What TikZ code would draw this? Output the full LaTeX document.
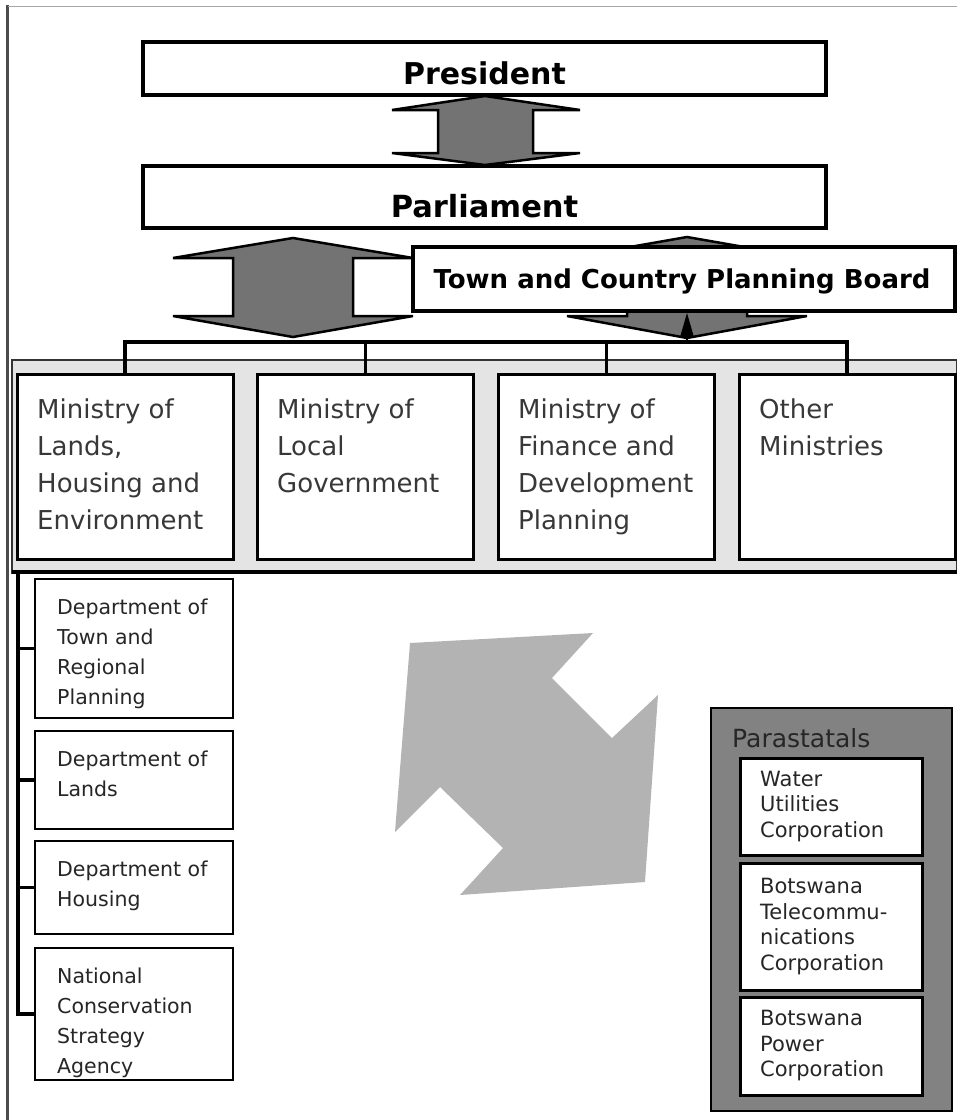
\documentclass[tikz,border=0pt]{standalone}
\usepackage{fontspec}
\setmainfont{DejaVu Sans}
\usetikzlibrary{arrows.meta}
\definecolor{arrowgray}{HTML}{737373}
\definecolor{bandgray}{HTML}{E4E4E4}
\definecolor{pinwheel}{HTML}{B3B3B3}
\definecolor{paragray}{HTML}{828282}
\begin{document}
\begin{tikzpicture}[x=1pt,y=-1pt,
  topbox/.style={draw=black, line width=4pt, fill=white, inner sep=0pt},
  boldtext/.style={anchor=base, inner sep=0pt, font=\bfseries},
  blockarrow/.style={fill=arrowgray, draw=black, line width=2.5pt, line join=miter},
  minbox/.style={draw=black, line width=3pt, fill=white, minimum width=216pt, minimum height=185pt, inner sep=0pt},
  mintext/.style={anchor=north west, align=left, inner sep=0pt, font=\fontsize{26}{37}\selectfont, text=black!78},
  deptbox/.style={draw=black, line width=2.5pt, fill=white, minimum width=198pt, inner sep=0pt},
  depttext/.style={anchor=north west, align=left, inner sep=0pt, font=\fontsize{20.5}{30}\selectfont, text=black!85},
  parabox/.style={draw=black, line width=3pt, fill=white, minimum width=182pt, inner sep=0pt},
  paratext/.style={anchor=west, align=left, inner sep=0pt, font=\fontsize{21}{25.5}\selectfont, text=black!85},
  busline/.style={draw=black, line width=4pt}
]
\useasboundingbox (0,0) rectangle (957,1120);
% frame
\draw[black!70, line width=2.5pt] (7.5,5) -- (7.5,1120);
\draw[gray!70, line width=1.5pt] (7.5,6.5) -- (957,6.5);

% block arrows
\draw[blockarrow] (485,96) -- (580,110) -- (533,110) -- (533,153) -- (580,153) -- (485,165)
  -- (392,153) -- (438,153) -- (438,110) -- (392,110) -- cycle;
\draw[blockarrow] (293,238) -- (413,258) -- (353,258) -- (353,316) -- (413,316) -- (293,337)
  -- (173,316) -- (233,316) -- (233,258) -- (173,258) -- cycle;
\draw[blockarrow] (687,237) -- (807,258) -- (747,258) -- (747,316) -- (807,316) -- (687,338)
  -- (567,316) -- (627,316) -- (627,258) -- (567,258) -- cycle;

% top boxes
\node[topbox, minimum width=683pt, minimum height=53pt] (pres) at (484.5,68.5) {};
\node[boldtext, font=\fontsize{30}{36}\selectfont\bfseries] (presT) at (484.5,84.5) {President};
\node[topbox, minimum width=683pt, minimum height=62pt] (parl) at (484.5,197) {};
\node[boldtext, font=\fontsize{30.5}{36}\selectfont\bfseries] (parlT) at (484.5,217) {Parliament};
\node[topbox, line width=3.5pt, minimum width=542pt, minimum height=64pt] (board) at (684,279) {};
\node[boldtext, font=\fontsize{26}{32}\selectfont\bfseries] (boardT) at (682,288.5) {Town and Country Planning Board};

% ministries band
\draw[fill=bandgray, draw=black!80, line width=1.5pt] (12,360) rectangle (957,573);
\draw[black, line width=3.5pt] (12,572) -- (957,572);

\node[minbox] (m1) at (125,466.5) {};
\node[minbox] (m2) at (365,466.5) {};
\node[minbox] (m3) at (606,466.5) {};
\node[minbox] (m4) at (847,466.5) {};
\node[mintext] (m1T) at (37,399) {Ministry of\\Lands,\\Housing and\\Environment};
\node[mintext] (m2T) at (277,399) {Ministry of\\Local\\Government};
\node[mintext] (m3T) at (518,399) {Ministry of\\Finance and\\Development\\Planning};
\node[mintext] (m4T) at (759,399) {Other\\Ministries};

% bus
\coordinate (bus) at (0,342);
\draw[busline] (m1.north) -- (m1.north |- bus) -- (m4.north |- bus) -- (m4.north);
\draw[busline, line width=3pt] (m2.north) -- (m2.north |- bus);
\draw[busline, line width=3pt] (m3.north) -- (m3.north |- bus);
\coordinate (bt) at (687,341);
\draw[line width=2.5pt, -{Triangle[length=24pt,width=13pt]}] (bt) -- (bt |- board.south);

% pinwheel
\fill[pinwheel] (410,643) -- (593,633) -- (552,678) -- (612,738) -- (658,695) -- (645,882)
  -- (460,895) -- (503,848) -- (440,787) -- (395,832) -- cycle;

% departments
\node[deptbox, minimum height=139pt] (d1) at (134,648.5) {};
\node[deptbox, minimum height=98pt] (d2) at (134,780) {};
\node[deptbox, minimum height=93pt] (d3) at (134,887.5) {};
\node[deptbox, minimum height=132pt] (d4) at (134,1014) {};
\node[depttext] (d1T) at (57,599) {Department of\\Town and\\Regional\\Planning};
\node[depttext] (d2T) at (57,751) {Department of\\Lands};
\node[depttext] (d3T) at (57,861) {Department of\\Housing};
\node[depttext] (d4T) at (57,968) {National\\Conservation\\Strategy\\Agency};
\coordinate (dtop) at (18,572);
\draw[busline, line width=3.5pt] (dtop) |- (d4.west);
\draw[busline, line width=3.5pt] (d1.west) -- (d1.west -| dtop);
\draw[busline, line width=3.5pt] (d2.west) -- (d2.west -| dtop);
\draw[busline, line width=3.5pt] (d3.west) -- (d3.west -| dtop);

% parastatals
\node[draw=black, line width=2.5pt, fill=paragray, minimum width=241pt, minimum height=403pt, inner sep=0pt] (para) at (831.5,909.5) {};
\node[anchor=west, inner sep=0pt, font=\fontsize{25}{30}\selectfont, text=black!85] (paraT) at (732,738) {Parastatals};
\node[parabox, minimum height=97pt] (p1) at (831,806.5) {};
\node[parabox, minimum height=127pt] (p2) at (831,926.5) {};
\node[parabox, minimum height=98pt] (p3) at (831,1046) {};
\node[paratext] (p1T) at (760,806.5) {Water\\Utilities\\Corporation};
\node[paratext] (p2T) at (760,926.5) {Botswana\\Telecommu-\\nications\\Corporation};
\node[paratext] (p3T) at (760,1046) {Botswana\\Power\\Corporation};
\end{tikzpicture}
\end{document}
